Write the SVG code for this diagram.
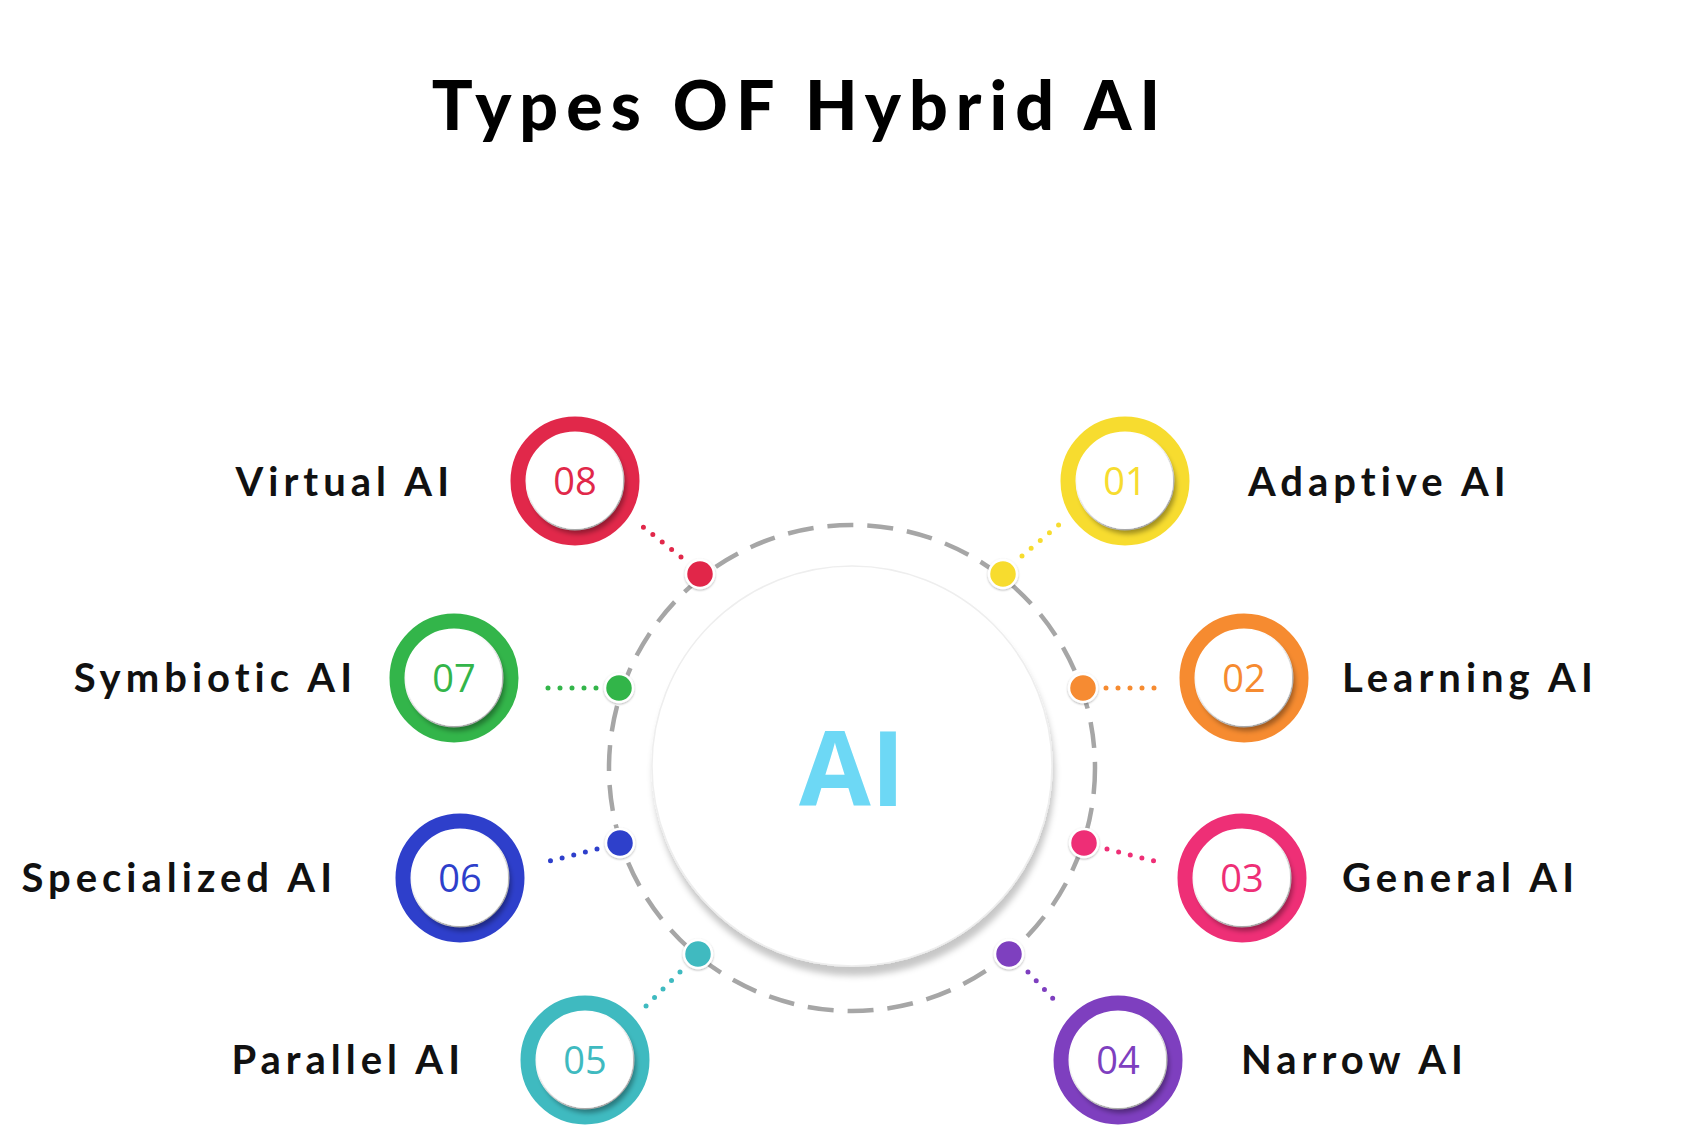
<svg xmlns="http://www.w3.org/2000/svg" width="1696" height="1144" viewBox="0 0 1696 1144">
<defs>
<filter id="sh" x="-30%" y="-30%" width="170%" height="170%"><feDropShadow dx="3" dy="5" stdDeviation="2.5" flood-color="#000" flood-opacity="0.35"/></filter>
<filter id="sh2" x="-20%" y="-20%" width="140%" height="140%"><feDropShadow dx="2" dy="9" stdDeviation="3" flood-color="#000" flood-opacity="0.22"/></filter>
<filter id="sh3" x="-50%" y="-50%" width="200%" height="200%"><feDropShadow dx="0" dy="1" stdDeviation="1" flood-color="#000" flood-opacity="0.3"/></filter>
</defs>
<style>
.lbl{font-family:"Lato","Liberation Sans",sans-serif;font-weight:700;font-size:40px;letter-spacing:5px;fill:#111}
.num{font-family:"Open Sans","Liberation Sans",sans-serif;font-size:38px;text-anchor:middle}
.inner{fill:#fff;filter:url(#sh)}
.dot{stroke:#fff;stroke-width:2.5;filter:url(#sh3)}
.dl{stroke-width:5;stroke-linecap:round;stroke-dasharray:0 12;fill:none}
</style>
<rect width="1696" height="1144" fill="#fff"/>
<text x="800" y="130" text-anchor="middle" font-family="Lato,'Liberation Sans',sans-serif" font-weight="900" font-size="68" letter-spacing="8" fill="#000">Types OF Hybrid AI</text>
<g id="hub">
<circle cx="852" cy="768" r="243" fill="none" stroke="#a6a6a6" stroke-width="4.5" stroke-dasharray="26 14"/>
<circle cx="852" cy="766" r="200" fill="#fff" stroke="#eee" stroke-width="1.5" filter="url(#sh2)"/>
<text x="852" y="806" text-anchor="middle" font-family="'Open Sans','Liberation Sans',sans-serif" font-weight="700" font-size="104" fill="#6DD8F5">AI</text>
</g>
<g id="connectors">
<line class="dl" x1="1022" y1="556" x2="1062" y2="522" stroke="#F7DC2F"/>
<line class="dl" x1="1106" y1="688" x2="1160" y2="688" stroke="#F68B30"/>
<line class="dl" x1="1107" y1="849" x2="1158" y2="862" stroke="#EE2F76"/>
<line class="dl" x1="1028" y1="972" x2="1060" y2="1006" stroke="#7E3FBF"/>
<line class="dl" x1="680" y1="972" x2="644" y2="1008" stroke="#3FBAC0"/>
<line class="dl" x1="597" y1="849" x2="546" y2="862" stroke="#2E3FCB"/>
<line class="dl" x1="596" y1="688" x2="542" y2="688" stroke="#33B54A"/>
<line class="dl" x1="681" y1="557" x2="642" y2="526" stroke="#E1284A"/>
</g>
<g id="n01"><circle cx="1125" cy="481" r="57" fill="none" stroke="#F7DC2F" stroke-width="15"/><circle class="inner" cx="1125" cy="481" r="48"/><text class="num" x="1125" y="495" fill="#F7DC2F">01</text><circle class="dot" cx="1003" cy="574" r="14" fill="#F7DC2F"/><text class="lbl" x="1248" y="496">Adaptive AI</text></g>
<g id="n02"><circle cx="1244" cy="678" r="57" fill="none" stroke="#F68B30" stroke-width="15"/><circle class="inner" cx="1244" cy="678" r="48"/><text class="num" x="1244" y="692" fill="#F68B30">02</text><circle class="dot" cx="1083" cy="688" r="14" fill="#F68B30"/><text class="lbl" x="1342" y="692">Learning AI</text></g>
<g id="n03"><circle cx="1242" cy="878" r="57" fill="none" stroke="#EE2F76" stroke-width="15"/><circle class="inner" cx="1242" cy="878" r="48"/><text class="num" x="1242" y="892" fill="#EE2F76">03</text><circle class="dot" cx="1084" cy="843" r="14" fill="#EE2F76"/><text class="lbl" x="1342" y="892">General AI</text></g>
<g id="n04"><circle cx="1118" cy="1060" r="57" fill="none" stroke="#7E3FBF" stroke-width="15"/><circle class="inner" cx="1118" cy="1060" r="48"/><text class="num" x="1118" y="1074" fill="#7E3FBF">04</text><circle class="dot" cx="1009" cy="954" r="14" fill="#7E3FBF"/><text class="lbl" x="1241" y="1074">Narrow AI</text></g>
<g id="n05"><circle cx="585" cy="1060" r="57" fill="none" stroke="#3FBAC0" stroke-width="15"/><circle class="inner" cx="585" cy="1060" r="48"/><text class="num" x="585" y="1074" fill="#3FBAC0">05</text><circle class="dot" cx="698" cy="954" r="14" fill="#3FBAC0"/><text class="lbl" x="465" y="1074" text-anchor="end">Parallel AI</text></g>
<g id="n06"><circle cx="460" cy="878" r="57" fill="none" stroke="#2E3FCB" stroke-width="15"/><circle class="inner" cx="460" cy="878" r="48"/><text class="num" x="460" y="892" fill="#2E3FCB">06</text><circle class="dot" cx="620" cy="843" r="14" fill="#2E3FCB"/><text class="lbl" x="337" y="892" text-anchor="end">Specialized AI</text></g>
<g id="n07"><circle cx="454" cy="678" r="57" fill="none" stroke="#33B54A" stroke-width="15"/><circle class="inner" cx="454" cy="678" r="48"/><text class="num" x="454" y="692" fill="#33B54A">07</text><circle class="dot" cx="619" cy="688" r="14" fill="#33B54A"/><text class="lbl" x="357" y="692" text-anchor="end">Symbiotic AI</text></g>
<g id="n08"><circle cx="575" cy="481" r="57" fill="none" stroke="#E1284A" stroke-width="15"/><circle class="inner" cx="575" cy="481" r="48"/><text class="num" x="575" y="495" fill="#E1284A">08</text><circle class="dot" cx="700" cy="574" r="14" fill="#E1284A"/><text class="lbl" x="454" y="496" text-anchor="end">Virtual AI</text></g>
</svg>
